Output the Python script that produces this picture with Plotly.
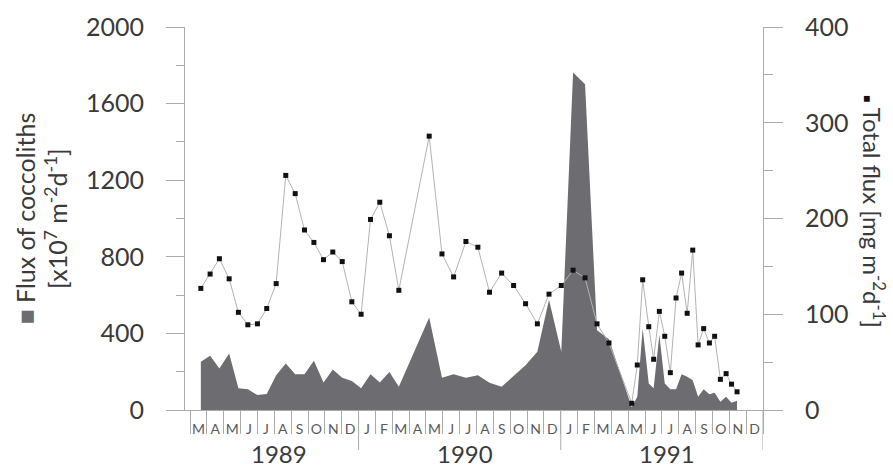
import plotly.graph_objects as go

# Sampling times, in months counted from 1 March 1989
t_months = [
    0.64, 1.19, 1.74, 2.32, 2.87, 3.43, 4.00, 4.55, 5.11, 5.68,
    6.24, 6.79, 7.35, 7.92, 8.47, 9.03, 9.60, 10.15, 10.71, 11.26,
    11.83, 12.39, 14.19, 14.95, 15.64, 16.37, 17.08, 17.77, 18.49, 19.20,
    19.91, 20.61, 21.30, 22.03, 22.73, 23.44, 24.15, 24.86, 26.21, 26.54,
    26.86, 27.22, 27.51, 27.85, 28.17, 28.50, 28.84, 29.17, 29.50, 29.83,
    30.15, 30.48, 30.82, 31.13, 31.47, 31.81, 32.13, 32.46,
]

# Flux of coccoliths [x10^7 m^-2 d^-1]
coccolith_flux = [
    252, 283, 217, 295, 113, 109, 78, 83, 182, 243,
    187, 187, 257, 144, 212, 168, 151, 113, 187, 144,
    198, 121, 483, 168, 187, 168, 182, 142, 121, 177,
    234, 304, 576, 304, 1762, 1701, 417, 370, 15, 69,
    425, 139, 113, 391, 139, 108, 108, 187, 174, 156,
    69, 108, 82, 90, 43, 69, 38, 48,
]

# Total flux [mg m^-2 d^-1]
total_flux = [
    127, 142, 158, 137, 102, 89, 90, 106, 132, 245,
    226, 188, 175, 157, 165, 155, 113, 100, 199, 217,
    182, 125, 286, 163, 139, 176, 170, 123, 143, 130,
    111, 90, 121, 130, 146, 138, 90, 70, 7, 47,
    136, 87, 53, 103, 77, 39, 117, 143, 101, 167,
    68, 85, 70, 77, 32, 38, 27, 19,
]

month_letters = list("MAMJJASOND") + list("JFMAMJJASOND") * 2
years = ["1989", "1990", "1991"]
year_bounds = [0, 10, 22, 34]

AXIS = "#ababab"
TEXT = "#3a3a3a"
FONT = "Lato"

fig = go.Figure()

fig.add_trace(go.Scatter(
    x=t_months, y=coccolith_flux, mode="lines",
    line=dict(width=0, color="#6c6c71"),
    fill="tozeroy", fillcolor="#6c6c71",
    hoverinfo="skip", showlegend=False, yaxis="y",
))

fig.add_trace(go.Scatter(
    x=t_months, y=total_flux, mode="lines+markers",
    line=dict(width=1, color="#b3b3b3"),
    marker=dict(symbol="square", size=5, color="#111111"),
    showlegend=False, yaxis="y2",
))

n_months = len(month_letters)

fig.update_layout(
    width=893, height=468,
    margin=dict(l=185, r=130, t=27, b=58),
    paper_bgcolor="white", plot_bgcolor="white",
    font=dict(family=FONT, color=TEXT),
    xaxis=dict(
        range=[-0.3, n_months],
        showgrid=False, zeroline=False,
        showline=True, linecolor=AXIS, linewidth=1,
        tickmode="array",
        tickvals=[i + 0.5 for i in range(n_months)],
        ticktext=month_letters,
        ticks="outside", ticklen=0, tickcolor=AXIS,
        ticklabelstandoff=6,
        tickfont=dict(size=14, color="#5a5a5a", family=FONT),
        minor=dict(
            tickmode="array", tickvals=list(range(n_months + 1)),
            ticks="outside", ticklen=23, tickcolor=AXIS, tickwidth=1,
            showgrid=False,
        ),
    ),
    yaxis=dict(
        range=[0, 2000],
        tickmode="array", tickvals=[0, 400, 800, 1200, 1600, 2000],
        showgrid=False, zeroline=False,
        showline=True, linecolor=AXIS, linewidth=1,
        ticks="outside", ticklen=18, tickcolor=AXIS,
        ticklabelstandoff=17,
        tickfont=dict(size=25, color=TEXT, family=FONT),
        minor=dict(dtick=200, ticks="outside", ticklen=8,
                   tickcolor=AXIS, showgrid=False),
    ),
    yaxis2=dict(
        range=[0, 400], overlaying="y", side="right",
        tickmode="array", tickvals=[0, 100, 200, 300, 400],
        showgrid=False, zeroline=False,
        showline=True, linecolor=AXIS, linewidth=1,
        ticks="outside", ticklen=19, tickcolor=AXIS,
        ticklabelstandoff=17,
        tickfont=dict(size=25, color=TEXT, family=FONT),
        minor=dict(dtick=50, ticks="outside", ticklen=9,
                   tickcolor=AXIS, showgrid=False),
    ),
)

# Longer separators at year boundaries (the last one continues the right axis)
for b in year_bounds[1:]:
    fig.add_shape(type="line", xref="x", yref="paper",
                  x0=b, x1=b, y0=0, y1=-40 / 383,
                  line=dict(color=AXIS, width=1))

# Year labels under the month letters
for yr, a, b in zip(years, year_bounds[:-1], year_bounds[1:]):
    fig.add_annotation(text=yr, x=(a + b) / 2 + 0.3, xref="x",
                       y=-44 / 383, yref="paper",
                       xanchor="center", yanchor="middle", showarrow=False,
                       font=dict(size=24, color=TEXT, family=FONT))

# Axis titles
fig.add_annotation(
    text='<span style="color:#6c6c71">■</span> Flux of coccoliths<br>'
         '[x10<sup>7</sup> m<sup>-2</sup>d<sup>-1</sup>]',
    x=(41 - 185) / 578, xref="paper", y=0.5, yref="paper",
    xanchor="center", yanchor="middle", textangle=-90, showarrow=False,
    font=dict(size=25, color=TEXT, family=FONT),
)
fig.add_annotation(
    text='<span style="font-size:12px;color:#111">■</span> Total flux '
         '[mg m<sup>-2</sup>d<sup>-1</sup>]',
    x=(874 - 185) / 578, xref="paper", y=(410 - 211) / 383, yref="paper",
    xanchor="center", yanchor="middle", textangle=90, showarrow=False,
    font=dict(size=24, color=TEXT, family=FONT),
)

fig.write_html("out.html")
